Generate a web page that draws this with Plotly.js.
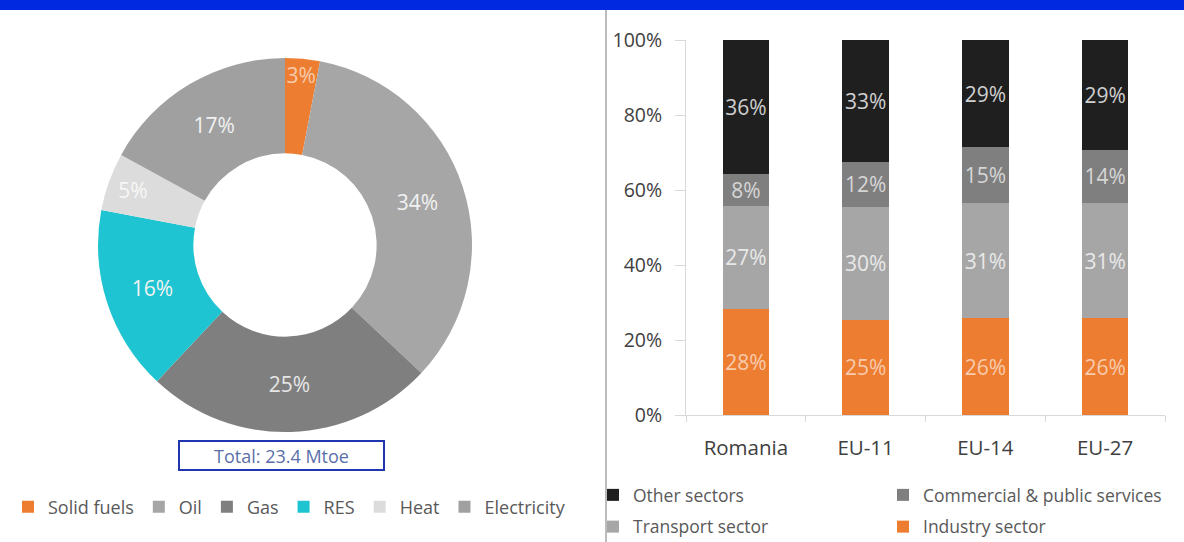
<!DOCTYPE html>
<html><head><meta charset="utf-8">
<script src="https://cdn.plot.ly/plotly-3.0.1.min.js"></script>
<style>html,body{margin:0;padding:0;background:#fff}#chart{width:1184px;height:542px}</style>
</head><body><div id="chart"></div>
<script>
// ---- Left chart: final energy consumption by fuel (donut) ----
const fuelLabels = ['Solid fuels', 'Oil', 'Gas', 'RES', 'Heat', 'Electricity'];
const fuelShares = [3, 34, 25, 16, 5, 17];
const fuelColors = ['#ED7D31', '#A6A6A6', '#7F7F7F', '#1EC4D1', '#DCDCDC', '#A0A0A0'];
const fuelTextColors = ['#F8CBAD', '#F2F2F2', '#E6E6E6', '#F2F2F2', '#F7F7F7', '#F2F2F2'];
const totalText = 'Total: 23.4 Mtoe';

// ---- Right chart: consumption by sector (stacked 100%) ----
const regions = ['Romania', 'EU-11', 'EU-14', 'EU-27'];
const industry = [28.4, 25.4, 25.8, 25.8];
const transport = [27.4, 30.2, 30.8, 30.7];
const commercial = [8.4, 11.8, 14.8, 14.3];
const other = [35.8, 32.6, 28.6, 29.2];
const yTicks = [0, 20, 40, 60, 80, 100];
const yTickLabels = ['0%', '20%', '40%', '60%', '80%', '100%'];

const W = 1184, H = 542;
const px = x => x / W;
const py = y => 1 - y / H;
const FONT = 'Open Sans, Lato, sans-serif';
const LABEL_SIZE = 21;

const pie = {
  type: 'pie', labels: fuelLabels, values: fuelShares, hole: 0.49,
  sort: false, direction: 'clockwise', rotation: 0,
  marker: {colors: fuelColors, line: {width: 0}},
  texttemplate: '%{value}%', textposition: 'inside', insidetextorientation: 'horizontal',
  textfont: {family: FONT, size: LABEL_SIZE, color: fuelTextColors},
  domain: {x: [px(98), px(472)], y: [py(432), py(58)]},
  legend: 'legend', hoverinfo: 'none'
};

function barTrace(name, vals, color, txtColor, legend, grp, rank) {
  return {
    type: 'bar', name: name, x: regions, y: vals, width: 0.39,
    marker: {color: color, line: {width: 0}},
    texttemplate: '%{y:.0f}%', textposition: 'inside', insidetextanchor: 'middle',
    textangle: 0, textfont: {family: FONT, size: LABEL_SIZE, color: txtColor},
    legend: legend, legendgroup: grp, legendrank: rank,
    hoverinfo: 'none', xaxis: 'x', yaxis: 'y'
  };
}

const traces = [
  pie,
  barTrace('Industry sector', industry, '#ED7D31', '#F8CBAD', 'legend3', 'g1', 2),
  barTrace('Transport sector', transport, '#A6A6A6', '#E9E9E9', 'legend2', 'g2', 2),
  barTrace('Commercial & public services', commercial, '#7F7F7F', '#D6D6D6', 'legend3', 'g3', 1),
  barTrace('Other sectors', other, '#1F1F1F', '#D0D0D0', 'legend2', 'g4', 1)
];

const layout = {
  width: W, height: H, margin: {l: 0, r: 0, t: 0, b: 0, autoexpand: false},
  paper_bgcolor: '#fff', plot_bgcolor: '#fff',
  barmode: 'stack', showlegend: true,
  uniformtext: {mode: 'show', minsize: LABEL_SIZE},
  xaxis: {
    domain: [px(686), px(1165)], anchor: 'y', showline: true, linecolor: '#D9D9D9', linewidth: 1,
    ticks: 'outside', tickson: 'boundaries', ticklen: 6, tickcolor: '#D9D9D9',
    tickfont: {family: FONT, size: 20.5, color: '#404040'}, ticklabelstandoff: 14,
    showgrid: false, fixedrange: true
  },
  yaxis: {
    domain: [py(415), py(40)], anchor: 'x', range: [0, 100],
    tickvals: yTicks, ticktext: yTickLabels, showline: true, linecolor: '#D9D9D9', linewidth: 1,
    ticks: 'outside', ticklen: 10, tickcolor: '#D9D9D9',
    tickfont: {family: FONT, size: 19.5, color: '#404040'},
    ticklabelstandoff: 9, showgrid: false, zeroline: false, fixedrange: true
  },
  legend: {
    orientation: 'h', x: px(8), y: py(507), xanchor: 'left', yanchor: 'middle',
    font: {family: FONT, size: 18, color: '#595959'}, bgcolor: 'rgba(0,0,0,0)', itemwidth: 30
  },
  legend2: {
    orientation: 'v', x: px(593), y: py(477), xanchor: 'left', yanchor: 'top',
    traceorder: 'grouped', tracegroupgap: 6,
    font: {family: FONT, size: 17.5, color: '#595959'}, bgcolor: 'rgba(0,0,0,0)', itemwidth: 30
  },
  legend3: {
    orientation: 'v', x: px(883), y: py(477), xanchor: 'left', yanchor: 'top',
    traceorder: 'grouped', tracegroupgap: 6,
    font: {family: FONT, size: 17.5, color: '#595959'}, bgcolor: 'rgba(0,0,0,0)', itemwidth: 30
  },
  annotations: [{
    xref: 'paper', yref: 'paper', x: px(281.5), y: py(455.5), xanchor: 'center', yanchor: 'middle',
    text: totalText, showarrow: false, width: 203, height: 27,
    bordercolor: '#2036B0', borderwidth: 2, borderpad: 0,
    font: {family: FONT, size: 18, color: '#5A6FA8'}
  }],
  shapes: [
    {type: 'rect', xref: 'paper', yref: 'paper', x0: 0, x1: 1, y0: py(10), y1: 1,
     fillcolor: '#0029E0', line: {width: 0}, layer: 'above'},
    {type: 'line', xref: 'paper', yref: 'paper', x0: px(606), x1: px(606), y0: 0, y1: py(10),
     line: {color: '#A6A6A6', width: 1.5}}
  ]
};

Plotly.newPlot('chart', traces, layout, {staticPlot: true, displayModeBar: false});
</script>
</body></html>
